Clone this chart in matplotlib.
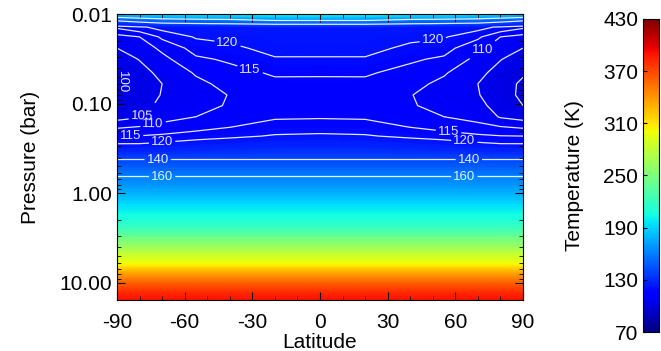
import numpy as np
import matplotlib
matplotlib.use('Agg')
import matplotlib.pyplot as plt
from matplotlib.colors import Normalize
from matplotlib.cm import ScalarMappable
from matplotlib.ticker import FixedLocator, FixedFormatter, LogLocator, NullFormatter

plt.rcParams['font.family'] = ['Liberation Sans', 'DejaVu Sans']
plt.rcParams['axes.unicode_minus'] = False

# latitude grid (deg) and pressure levels (bar)
lat = [-90, -80, -70, -55, -40, -20, 0, 20, 40, 55, 70, 80, 90]
p_upper = [0.01, 0.0115, 0.014, 0.018, 0.024, 0.032, 0.045, 0.06, 0.08,
           0.105, 0.14, 0.18, 0.23, 0.3]
# temperature (K) in the upper layer, one row per pressure level
t_upper = [
    [185, 190, 195, 200, 200, 205, 205, 205, 200, 200, 195, 190, 185],
    [145, 150, 155, 158, 160, 165, 165, 165, 160, 158, 155, 150, 145],
    [116, 119, 122, 122.5, 123, 124, 124, 124, 123, 122.5, 122, 119, 116],
    [108, 110, 116, 120.5, 121, 122.5, 122.5, 122.5, 121, 120.5, 116, 110, 108],
    [105, 107.5, 111, 117, 119, 121.5, 121.5, 121.5, 119, 117, 111, 107.5, 105],
    [102.5, 105.2, 108.5, 114, 115.8, 119.5, 119.5, 119.5, 115.8, 114, 108.5, 105.2, 102.5],
    [100.5, 103, 106.5, 110.5, 113, 115.8, 115.6, 115.8, 113, 110.5, 106.5, 103, 100.5],
    [99.2, 102, 105, 108.8, 111.5, 113.5, 113.8, 113.5, 111.5, 108.8, 105, 102, 99.2],
    [99, 102, 105.3, 107.8, 110.2, 112, 112.5, 112, 110.2, 107.8, 105.3, 102, 99],
    [100, 102.8, 106.5, 108.2, 110.5, 112.3, 112.8, 112.3, 110.5, 108.2, 106.5, 102.8, 100],
    [103, 104.5, 108.8, 110, 112.5, 114.2, 114.5, 114.2, 112.5, 110, 108.8, 104.5, 103],
    [109, 110, 111, 113, 114.7, 117.5, 117.5, 117.5, 114.7, 113, 111, 110, 109],
    [115, 115.2, 116, 117.5, 118.8, 120.5, 121, 120.5, 118.8, 117.5, 116, 115.2, 115],
    [122, 122, 123, 125, 126, 128, 128, 128, 126, 125, 123, 122, 122],
]
# deeper levels: nearly the same at all latitudes
p_deep = [0.42, 0.65, 0.93, 1.43, 2.4, 3.3, 4.6, 6.0, 7.7, 10.0, 12.9, 15.5]
t_deep = [140, 160, 174, 196, 221, 250, 279, 300, 335, 362, 382, 392]

contour_levels = [100, 105, 110, 115, 120, 140, 160]
cbar_ticks = [70, 130, 190, 250, 310, 370, 430]
lat_ticks = [-90, -60, -30, 0, 30, 60, 90]
p_ticks = [0.01, 0.1, 1.0, 10.0]
p_ticklabels = ['0.01', '0.10', '1.00', '10.00']

# where the contour labels sit (lat, bar)
label_pos = [(-41, 0.02), (-31, 0.036), (50, 0.021), (72, 0.024),
             (-79, 0.11), (-88, 0.063), (-74, 0.165), (-84, 0.21),
             (-70, 0.26), (57, 0.19), (64, 0.245),
             (-72, 0.44), (66, 0.44), (-70, 0.68), (64, 0.68)]

pres = np.array(p_upper + p_deep)
temp = np.vstack([np.array(t_upper), np.tile(np.array(t_deep)[:, None], (1, len(lat)))])

norm = Normalize(vmin=70, vmax=430)

fig = plt.figure(figsize=(6.61, 3.51), dpi=100)
ax = fig.add_axes([117/661, 1-300/351, 406/661, 286/351])

ax.contourf(lat, pres, temp, levels=np.linspace(70, 430, 181), cmap='jet', norm=norm)
cs = ax.contour(lat, pres, temp, levels=contour_levels, colors='white',
                linewidths=0.9, alpha=0.9)
ax.clabel(cs, fmt='%d', fontsize=9.5, manual=label_pos, inline=True, inline_spacing=2)

ax.set_yscale('log')
ax.set_ylim(15.5, 0.01)
ax.set_xlim(-90, 90)
ax.yaxis.set_major_locator(FixedLocator(p_ticks))
ax.yaxis.set_major_formatter(FixedFormatter(p_ticklabels))
ax.yaxis.set_minor_locator(LogLocator(base=10, subs=np.arange(2, 10)))
ax.yaxis.set_minor_formatter(NullFormatter())
ax.set_xticks(lat_ticks)
ax.set_xticklabels([str(v) for v in lat_ticks])
ax.set_xticks(np.arange(-90, 91, 10), minor=True)
ax.tick_params(which='both', direction='in', top=True, right=True, labelsize=15)
ax.tick_params(which='major', length=6, width=0.8)
ax.tick_params(which='minor', length=3, width=0.6)
ax.tick_params(axis='x', which='major', pad=9)
ax.set_xlabel('Latitude', fontsize=15, labelpad=1)
ax.set_ylabel('Pressure (bar)', fontsize=15, labelpad=14)

cax = fig.add_axes([643/661, 1-332/351, 16/661, 313/351])
sm = ScalarMappable(norm=norm, cmap='jet')
cb = fig.colorbar(sm, cax=cax, ticks=cbar_ticks)
cax.yaxis.set_ticks_position('left')
cax.yaxis.set_label_position('left')
cax.tick_params(labelsize=15, length=3, direction='in')
cb.set_label('Temperature (K)', fontsize=15, labelpad=14)

fig.savefig('out.png', dpi=100)
